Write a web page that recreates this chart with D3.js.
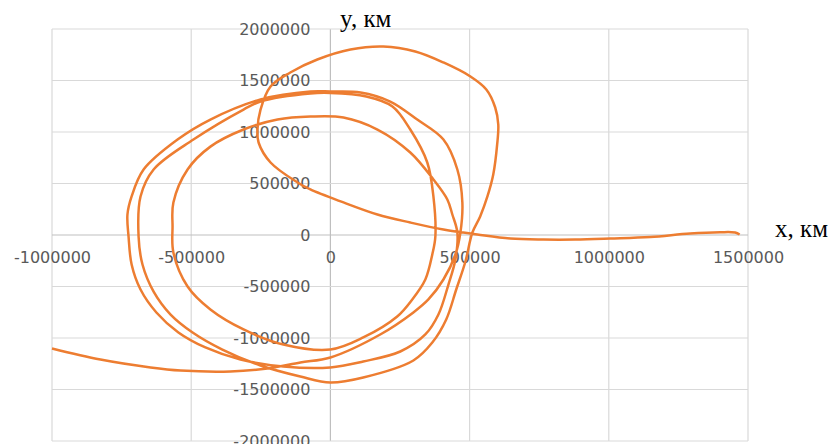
<!DOCTYPE html>
<html>
<head>
<meta charset="utf-8">
<script src="https://cdn.jsdelivr.net/npm/d3@7"></script>
<style>
  html, body { margin: 0; padding: 0; background: #fff; }
  svg { display: block; }
  .tick text { font-family: "DejaVu Sans", sans-serif; font-size: 16px; fill: #595959; }
  .title { font-family: "Liberation Serif", "Times New Roman", serif; font-size: 25px; fill: #000; }
</style>
</head>
<body>
<div id="chart"></div>
<script>
'use strict';
// trajectory, km (in path order)
var xKm = [
    // tail from the right, then the big loop
    1470000, 1454000, 1400000, 1292000, 1149000, 1005000, 879000, 765000, 646000, 528000,
    406000, 287000, 169000, 47000, -72000, -118000, -215000, -258000, -262000, -251000,
    -215000, -144000, -47000, 72000, 190000, 305000, 406000, 503000, 560000, 592000,
    603000, 599000, 585000, 564000, 538000, 510000,
    485000, 452000, 416000, 366000, 298000, 118000, 0, -108000, -251000, -388000,
    -495000, -574000, -635000, -675000, -689000, -682000, -635000, -492000, -312000, -251000,
    // first top strand, down the right
    -72000, 0, 129000, 223000, 287000, 348000, 370000, 377000,
    366000, 341000, 294000, 240000, 118000, 0,
    // inner loop
    -169000, -312000, -431000, -513000, -564000, -567000, -564000, -513000, -431000, -312000,
    -190000, -72000, 47000, 169000, 287000, 370000, 420000, 438000, 456000,
    449000, 424000, 388000, 341000, 251000, 118000, 0, -169000, -323000, -449000,
    -546000, -625000, -682000, -714000, -725000, -729000, -714000, -671000, -549000, -431000,
    -251000, -72000, 0,
    // second top strand, then the tail to the left
    108000, 215000, 312000, 406000, 456000, 474000, 467000,
    449000, 406000, 352000, 298000, 179000, 0, -108000, -226000, -359000, -538000,
    -646000, -826000, -1000000
];
var yKm = [
    5000, 24000, 27000, 15000, -19000, -34000, -44000, -44000, -34000, 5000,
    53000, 121000, 199000, 316000, 442000, 510000, 704000, 898000, 1024000, 1218000,
    1442000, 1578000, 1704000, 1801000, 1830000, 1782000, 1675000, 1539000, 1413000, 1238000,
    1073000, 879000, 587000, 374000, 180000, 24000,
    -257000, -529000, -820000, -1044000, -1218000, -1383000, -1432000, -1374000, -1267000, -1112000,
    -946000, -772000, -549000, -286000, -15000, 374000, 636000, 927000, 1218000, 1296000,
    1374000, 1379000, 1345000, 1248000, 1024000, 704000, 374000, -15000,
    -189000, -432000, -626000, -791000, -995000, -1112000,
    -1063000, -917000, -723000, -500000, -170000, 83000, 316000, 636000, 858000, 1024000,
    1121000, 1150000, 1141000, 1024000, 801000, 539000, 345000, 199000, 24000,
    -238000, -481000, -772000, -966000, -1131000, -1228000, -1286000, -1277000, -1209000, -1092000,
    -946000, -752000, -529000, -286000, -15000, 199000, 374000, 636000, 927000, 1121000,
    1316000, 1393000, 1393000,
    1384000, 1296000, 1121000, 927000, 636000, 316000, 24000,
    -189000, -432000, -626000, -752000, -966000, -1189000, -1238000, -1296000, -1325000, -1316000,
    -1286000, -1209000, -1102000
];

var xTicks = [-1000000, -500000, 0, 500000, 1000000, 1500000];
var yTicks = [-2000000, -1500000, -1000000, -500000, 0, 500000, 1000000, 1500000, 2000000];
var xTitle = "x, км";
var yTitle = "y, км";

var width = 830, height = 444;
var plot = {left: 52, right: 748, top: 29, bottom: 441};

var x = d3.scaleLinear().domain([-1000000, 1500000]).range([plot.left, plot.right]);
var y = d3.scaleLinear().domain([-2000000, 2000000]).range([plot.bottom, plot.top]);

var svg = d3.select("#chart").append("svg")
    .attr("width", width)
    .attr("height", height);

svg.append("rect").attr("width", width).attr("height", height).attr("fill", "#fff");

// gridlines
svg.append("g")
    .selectAll("line")
    .data(xTicks)
    .enter().append("line")
    .attr("x1", function (d) { return x(d); })
    .attr("x2", function (d) { return x(d); })
    .attr("y1", plot.top)
    .attr("y2", plot.bottom)
    .attr("stroke", function (d) { return d === 0 ? "#bfbfbf" : "#d9d9d9"; })
    .attr("stroke-width", 1.2);

svg.append("g")
    .selectAll("line")
    .data(yTicks)
    .enter().append("line")
    .attr("y1", function (d) { return y(d); })
    .attr("y2", function (d) { return y(d); })
    .attr("x1", plot.left)
    .attr("x2", plot.right)
    .attr("stroke", function (d) { return d === 0 ? "#bfbfbf" : "#d9d9d9"; })
    .attr("stroke-width", 1.2);

// tick labels, axes cross at zero
var fmt = function (d) { return String(d); };

var yAxis = svg.append("g")
    .attr("transform", "translate(" + x(0) + ",0)")
    .call(d3.axisLeft(y).tickValues(yTicks).tickSize(0).tickPadding(20).tickFormat(fmt));
yAxis.select(".domain").remove();

var xAxis = svg.append("g")
    .attr("transform", "translate(0," + y(0) + ")")
    .call(d3.axisBottom(x).tickValues(xTicks).tickSize(0).tickPadding(17).tickFormat(fmt));
xAxis.select(".domain").remove();

// trajectory
var pts = d3.range(xKm.length).map(function (i) { return [xKm[i], yKm[i]]; });
var line = d3.line()
    .x(function (d) { return x(d[0]); })
    .y(function (d) { return y(d[1]); })
    .curve(d3.curveCatmullRom.alpha(0.5));

svg.append("path")
    .datum(pts)
    .attr("fill", "none")
    .attr("stroke", "#ed7d31")
    .attr("stroke-width", 2.5)
    .attr("stroke-linejoin", "round")
    .attr("d", line);

// axis titles
svg.append("text").attr("class", "title").attr("x", 340).attr("y", 27).text(yTitle);
svg.append("text").attr("class", "title").attr("x", 775).attr("y", 237).text(xTitle);
</script>
</body>
</html>
